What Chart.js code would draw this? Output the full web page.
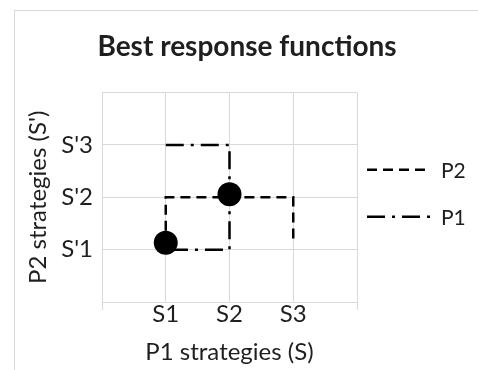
<!DOCTYPE html>
<html>
<head>
<meta charset="utf-8">
<script src="https://cdn.jsdelivr.net/npm/chart.js@4.4.0/dist/chart.umd.min.js"></script>
<style>
  html, body { margin: 0; padding: 0; background: #fff; }
  #frame { position: absolute; left: 14px; top: 10px; width: 600px; height: 500px;
           border-left: 1px solid #d9d9d9; border-top: 1px solid #d9d9d9; }
  #c { position: absolute; left: 0; top: 0; }
</style>
</head>
<body>
<div id="frame"></div>
<canvas id="c" width="478" height="370"></canvas>
<script>
// tick labels (value 0..4 on each axis)
const xTickLabels = ['', 'S1', 'S2', 'S3', ''];
const yTickLabels = ['', "S'1", "S'2", "S'3", ''];

// P2 best response (dashed)
const p2X = [1, 1, 3, 3];
const p2Y = [1, 2, 2, 1.15];

// P1 best response (dash-dot)
const p1X = [1, 2, 2, 1];
const p1Y = [3, 3, 1, 1];

// equilibrium dots
const nashX = [1, 2];
const nashY = [1.13, 2.06];

const textColor = '#1f1f1f';
const gridColor = '#d9d9d9';
const fontFamily = 'Lato, "Open Sans", sans-serif';

function toPoints(xs, ys) {
    return xs.map((x, i) => ({x: x, y: ys[i]}));
}

// draws the legend in the empty right-hand strip
const sideLegend = {
    id: 'sideLegend',
    afterDraw(chart) {
        const ctx = chart.ctx;
        const area = chart.chartArea;
        const items = chart.data.datasets.filter(d => d.inLegend);
        const mid = (area.top + area.bottom) / 2 - 4;
        const gap = 47;
        ctx.save();
        items.forEach((d, i) => {
            const y = mid + (i - (items.length - 1) / 2) * gap;
            const x0 = area.right + 10;
            ctx.beginPath();
            ctx.setLineDash(d.borderDash);
            ctx.lineWidth = d.borderWidth;
            ctx.strokeStyle = d.borderColor;
            ctx.moveTo(x0, y);
            ctx.lineTo(x0 + 63, y);
            ctx.stroke();
            ctx.setLineDash([]);
            ctx.fillStyle = textColor;
            ctx.font = '21px ' + fontFamily;
            ctx.textBaseline = 'middle';
            ctx.textAlign = 'left';
            ctx.fillText(d.label, x0 + 74, y + 1);
        });
        ctx.restore();
    }
};

new Chart(document.getElementById('c'), {
    type: 'scatter',
    data: {
        datasets: [
            {
                label: 'P2',
                inLegend: true,
                data: toPoints(p2X, p2Y),
                showLine: true,
                borderColor: '#000',
                borderWidth: 2.5,
                borderDash: [10, 6],
                borderDashOffset: 13,
                pointRadius: 0,
                order: 1
            },
            {
                label: 'P1',
                inLegend: true,
                data: toPoints(p1X, p1Y),
                showLine: true,
                borderColor: '#000',
                borderWidth: 2.5,
                borderDash: [18, 7, 3, 7],
                pointRadius: 0,
                order: 2
            },
            {
                label: 'Nash',
                data: toPoints(nashX, nashY),
                showLine: false,
                pointRadius: 12,
                pointBackgroundColor: '#000',
                pointBorderColor: '#000',
                pointBorderWidth: 0,
                order: 0
            }
        ]
    },
    options: {
        responsive: false,
        animation: false,
        layout: { padding: { left: 16, right: 0, top: 0, bottom: 0 } },
        plugins: {
            legend: { display: false },
            tooltip: { enabled: false },
            title: {
                display: true,
                text: 'Best response functions',
                color: textColor,
                font: { family: fontFamily, size: 28, weight: 'bold' },
                padding: { top: 30, bottom: 29 }
            }
        },
        scales: {
            x: {
                type: 'linear',
                min: 0,
                max: 4,
                afterFit: s => { s.height = 68; },
                ticks: {
                    stepSize: 1,
                    padding: -10,
                    color: textColor,
                    font: { family: fontFamily, size: 24 },
                    callback: v => xTickLabels[v]
                },
                grid: {
                    color: gridColor,
                    tickLength: 8,
                    tickColor: c => (c.index === 0 || c.index === xTickLabels.length - 1) ? gridColor : 'rgba(0,0,0,0)'
                },
                border: { color: gridColor },
                title: {
                    display: true,
                    text: 'P1 strategies (S)',
                    color: textColor,
                    font: { family: fontFamily, size: 24 },
                    padding: { top: 0, bottom: 3 }
                }
            },
            y: {
                type: 'linear',
                min: 0,
                max: 4,
                afterFit: s => { s.width = 86; },
                ticks: {
                    stepSize: 1,
                    padding: 9,
                    color: textColor,
                    font: { family: fontFamily, size: 24 },
                    callback: v => yTickLabels[v]
                },
                grid: { color: gridColor, drawTicks: false },
                border: { color: gridColor },
                title: {
                    display: true,
                    text: "P2 strategies (S')",
                    color: textColor,
                    font: { family: fontFamily, size: 24 },
                    padding: { top: 8, bottom: 0 }
                }
            },
            // empty strip on the right that holds the legend
            y2: {
                type: 'linear',
                position: 'right',
                display: true,
                afterFit: s => { s.width = 121; },
                ticks: { display: false },
                grid: { display: false, drawTicks: false },
                border: { display: false }
            }
        }
    },
    plugins: [sideLegend]
});
</script>
</body>
</html>
